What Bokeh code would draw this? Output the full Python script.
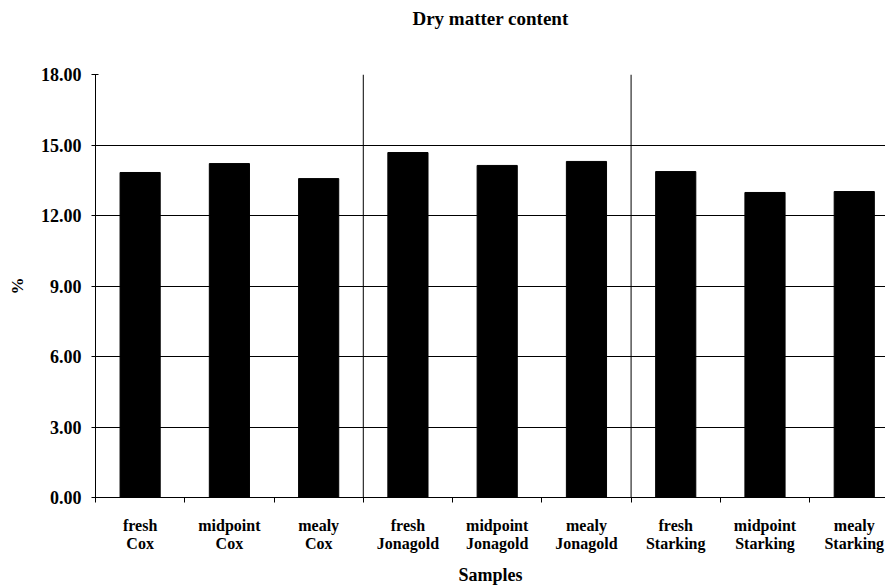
from bokeh.plotting import figure
from bokeh.models import FixedTicker, Span, Range1d, ColumnDataSource, LinearAxis
from bokeh.embed import file_html
from bokeh.resources import INLINE

categories = ["fresh\nCox", "midpoint\nCox", "mealy\nCox",
              "fresh\nJonagold", "midpoint\nJonagold", "mealy\nJonagold",
              "fresh\nStarking", "midpoint\nStarking", "mealy\nStarking"]
dry_matter = [13.83, 14.21, 13.57, 14.68, 14.13, 14.30, 13.87, 12.98, 13.02]
y_ticks = [0, 3, 6, 9, 12, 15, 18]
group_bounds = [3, 6]
title_text = "Dry matter content"

FONT = "Liberation Serif"

xs = [i + 0.5 for i in range(len(categories))]
src = ColumnDataSource(dict(x=xs, top=dry_matter))

# the reference's plot area runs past the right edge of the picture
p = figure(width=885, height=588, output_backend="svg", toolbar_location=None,
           x_range=Range1d(0, 8.85), y_range=Range1d(0, 18),
           min_border_left=95, min_border_right=0, min_border_top=74, min_border_bottom=0)
p.outline_line_color = None
p.background_fill_color = "white"
p.border_fill_color = "white"

# Title drawn as the label of an empty axis above the frame
top_axis = LinearAxis(ticker=FixedTicker(ticks=[]), axis_line_color=None,
                      major_tick_line_color=None, minor_tick_line_color=None,
                      major_label_text_font_size="0px",
                      axis_label=title_text, axis_label_text_font=FONT,
                      axis_label_text_font_size="19px", axis_label_text_font_style="bold",
                      axis_label_text_color="black", axis_label_standoff=46)
p.add_layout(top_axis, "above")

p.vbar(x="x", top="top", width=0.45, bottom=0, source=src,
       fill_color="black", line_color="black")

# Y axis
p.yaxis.ticker = FixedTicker(ticks=y_ticks)
p.yaxis.major_label_overrides = {t: f"{t:.2f}" for t in y_ticks}
p.yaxis.axis_label = "%"
p.yaxis.axis_label_text_font = FONT
p.yaxis.axis_label_text_font_size = "17px"
p.yaxis.axis_label_text_font_style = "bold"
p.yaxis.axis_label_text_color = "black"
p.yaxis.axis_label_standoff = 11
p.yaxis.major_label_text_font = FONT
p.yaxis.major_label_text_font_size = "18px"
p.yaxis.major_label_text_font_style = "bold"
p.yaxis.major_label_text_color = "black"
p.yaxis.major_label_standoff = 10
p.yaxis.major_tick_in = 3
p.yaxis.major_tick_out = 4
p.yaxis.minor_tick_line_color = None
p.yaxis.axis_line_color = "black"
p.yaxis.major_tick_line_color = "black"

# X axis
xax = p.below[0]
xax.ticker = FixedTicker(ticks=xs, minor_ticks=list(range(len(categories) + 1)))
xax.major_label_overrides = {x: c for x, c in zip(xs, categories)}
xax.major_tick_in = 0
xax.major_tick_out = 0
xax.minor_tick_in = 0
xax.minor_tick_out = 5
xax.minor_tick_line_color = "black"
xax.axis_line_color = "black"
xax.major_label_text_font = FONT
xax.major_label_text_font_size = "16px"
xax.major_label_text_font_style = "bold"
xax.major_label_text_color = "black"
xax.major_label_text_line_height = 1.1
xax.major_label_standoff = 14
xax.major_label_orientation = "horizontal"
xax.axis_label = "Samples"
xax.axis_label_text_font = FONT
xax.axis_label_text_font_size = "18px"
xax.axis_label_text_font_style = "bold"
xax.axis_label_text_color = "black"
xax.axis_label_standoff = 10

p.xgrid.grid_line_color = None
p.ygrid.ticker = FixedTicker(ticks=y_ticks)
p.ygrid.grid_line_color = "black"
p.ygrid.grid_line_width = 1

for b in group_bounds:
    p.add_layout(Span(location=b, dimension="height", line_color="black", line_width=1))

open("out.html", "w").write(file_html(p, INLINE))
